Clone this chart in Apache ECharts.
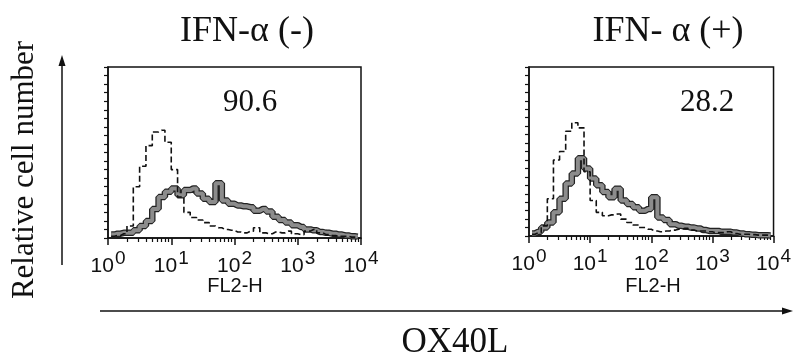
<!DOCTYPE html>
<html>
<head>
<meta charset="utf-8">
<script src="https://cdn.jsdelivr.net/npm/echarts@6/dist/echarts.min.js"></script>
<style>
  html, body {margin: 0; padding: 0; background: #fff;}
  #main {width: 794px; height: 362px;}
</style>
</head>
<body>
<div id="main"></div>
<script>
// bin centres on the log10 FL2-H scale (10^0 .. 10^4)
var binCenters = [0.05, 0.15, 0.25, 0.35, 0.45, 0.55, 0.65, 0.75, 0.85, 0.95,
  1.05, 1.15, 1.25, 1.35, 1.45, 1.55, 1.65, 1.75, 1.85, 1.95,
  2.05, 2.15, 2.25, 2.35, 2.45, 2.55, 2.65, 2.75, 2.85, 2.95,
  3.05, 3.15, 3.25, 3.35, 3.45, 3.55, 3.65, 3.75, 3.85, 3.95];

// relative cell number, % of the plot height
// IFN-a (-)
var ctrlMinus = [1, 1.5, 2.5, 7, 30, 42, 54, 62, 63, 56,
  40, 24, 15, 12, 10.5, 9, 7, 6, 5, 4.5,
  3.5, 3, 4, 6, 3, 2.5, 3.5, 3, 4, 2.5,
  2, 4, 5, 3, 2, 1.5, 1, 1, 0.5, 0.3];
var ox40lMinus = [2, 2.5, 3, 3, 4.5, 7, 10, 17, 24, 27,
  29, 25, 28, 29, 26, 23, 21, 32, 22, 20,
  19, 18.5, 18, 16, 17, 15.5, 12.5, 10.5, 9, 7.5,
  6.5, 5, 4.5, 3.5, 3, 2.5, 2, 1.5, 1, 0.8];
// IFN-a (+)
var ctrlPlus = [1, 2, 6, 22, 45, 50, 62, 67, 64, 38,
  21, 14, 12, 12.5, 13, 10, 8, 6.5, 5, 4,
  3, 2.5, 3, 3.5, 4, 4.5, 3.5, 3, 3, 2.5,
  2, 2, 2.5, 1.5, 1, 1, 0.8, 0.5, 0.5, 0.3];
var ox40lPlus = [1.5, 2.5, 5, 8, 14, 22, 31, 37, 46, 40,
  34, 30, 26, 23, 28, 21, 19, 17, 15, 16,
  23, 11, 9.5, 7, 6, 5.5, 5, 4.5, 3.5, 3,
  3, 2.5, 2.5, 2, 1.5, 1, 0.8, 0.5, 0.5, 0.3];

var decades = [0, 1, 2, 3, 4];   // 10^0 ... 10^4
var titles = ['IFN-α (-)', 'IFN- α (+)'];
var percents = ['90.6', '28.2'];

var serif = '"Liberation Serif", "DejaVu Serif", serif';
var sans = '"Liberation Sans", Arial, sans-serif';

function pairs(arr) {
  return arr.map(function (v, i) { return [binCenters[i], v]; });
}

// log minor ticks 2..9 of each decade
var minorTicks = [];
for (var d = 0; d < 4; d++) {
  for (var k = 2; k <= 9; k++) minorTicks.push(d + Math.log10(k));
}

var grids = [
  {left: 108, top: 67, width: 253, height: 171},
  {left: 529, top: 67, width: 249, height: 169}
];

var xAxes = [], yAxes = [], series = [];
grids.forEach(function (g, i) {
  g.show = true;
  g.borderColor = '#111';
  g.borderWidth = 1.5;
  g.backgroundColor = 'transparent';
  // decade ticks + labels
  xAxes.push({
    type: 'value', gridIndex: i, min: 0, max: 4, interval: 1,
    axisLine: {show: true, lineStyle: {color: '#111', width: 1.5}},
    axisTick: {show: true, length: 7, lineStyle: {color: '#111', width: 1.5}},
    splitLine: {show: false},
    axisLabel: {
      margin: 11,
      fontSize: 21,
      fontFamily: sans,
      color: '#111',
      formatter: function (v) { return '{b|10}{s|' + v + '}'; },
      rich: {
        b: {fontFamily: sans, fontSize: 21, color: '#111', verticalAlign: 'bottom'},
        s: {fontFamily: sans, fontSize: 19, color: '#111', verticalAlign: 'bottom', padding: [0, 0, 9, 1]}
      },
      customValues: decades
    }
  });
  // minor (log) ticks
  xAxes.push({
    type: 'value', gridIndex: i, min: 0, max: 4, position: 'bottom',
    axisLine: {show: false},
    axisLabel: {show: false},
    splitLine: {show: false},
    axisTick: {show: true, length: 4, customValues: minorTicks, lineStyle: {color: '#111', width: 1.2}}
  });
  yAxes.push({
    type: 'value', gridIndex: i, min: 0, max: 100, interval: 5,
    axisLine: {show: true, lineStyle: {color: '#111', width: 1.5}},
    axisTick: {show: true, length: 4, lineStyle: {color: '#111', width: 1.2}},
    axisLabel: {show: false},
    splitLine: {show: false}
  });
});

function stained(idx, arr) {
  // thick grey band with dark edges
  series.push({
    type: 'line', xAxisIndex: idx * 2, yAxisIndex: idx, step: 'middle',
    showSymbol: false, silent: true, data: pairs(arr), z: 3,
    lineStyle: {color: '#222', width: 6.5}
  });
  series.push({
    type: 'line', xAxisIndex: idx * 2, yAxisIndex: idx, step: 'middle',
    showSymbol: false, silent: true, data: pairs(arr), z: 4,
    lineStyle: {color: '#8c8c8c', width: 4}
  });
}
function control(idx, arr) {
  series.push({
    type: 'line', xAxisIndex: idx * 2, yAxisIndex: idx, step: 'middle',
    showSymbol: false, silent: true, data: pairs(arr), z: 5,
    lineStyle: {color: '#111', width: 1.6, type: [6, 3]}
  });
}
control(0, ctrlMinus);
stained(0, ox40lMinus);
control(1, ctrlPlus);
stained(1, ox40lPlus);

var txt = function (text, x, y, font, extra) {
  var o = {type: 'text', x: x, y: y, style: {text: text, font: font, fill: '#111', align: 'center', verticalAlign: 'middle'}};
  if (extra) Object.assign(o, extra);
  return o;
};

var graphics = [
  txt(titles[0], 247, 32, '36px ' + serif),
  txt(titles[1], 668, 32, '36px ' + serif),
  txt(percents[0], 250, 103, '31px ' + serif),
  txt(percents[1], 707, 103, '31px ' + serif),
  txt('FL2-H', 235, 286, '20px ' + sans),
  txt('FL2-H', 653, 286, '20px ' + sans),
  txt('OX40L', 455, 343, '35px ' + serif),
  txt('Relative cell number', 0, 0, '31px ' + serif, {x: 25, y: 170, rotation: Math.PI / 2}),
  // y arrow
  {type: 'line', shape: {x1: 62, y1: 265, x2: 62, y2: 64}, style: {stroke: '#111', lineWidth: 1.5}},
  {type: 'polygon', shape: {points: [[62, 55], [58.5, 66], [65.5, 66]]}, style: {fill: '#111'}},
  // x arrow
  {type: 'line', shape: {x1: 100, y1: 311, x2: 784, y2: 311}, style: {stroke: '#111', lineWidth: 1.5}},
  {type: 'polygon', shape: {points: [[793, 311], [782, 307.5], [782, 314.5]]}, style: {fill: '#111'}}
];

var chart = echarts.init(document.getElementById('main'), null, {renderer: 'canvas'});
var option = {
  animation: false,
  backgroundColor: '#fff',
  grid: grids,
  xAxis: xAxes,
  yAxis: yAxes,
  series: series,
  graphic: graphics
};
chart.setOption(option);
</script>
</body>
</html>
